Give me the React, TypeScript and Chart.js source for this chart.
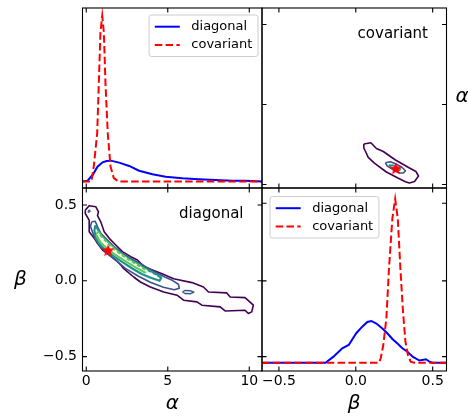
import React, { useEffect, useRef } from 'react';
import { Chart, registerables } from 'chart.js';

Chart.register(...registerables);

// ---------------- data ----------------
const alphaTicks = [0, 5, 10];
const betaTicks = [-0.5, 0.0, 0.5];
const betaDensityTicks = [0.037, 0.5, 0.974];

const alphaRange = [-0.23, 10.78];
const betaRange = [-0.61, 0.59];
const betaRangeVertical = [-0.595, 0.612];
const alphaRangeVertical = [-0.22, 11.03];
const alphaDensityRange = [-0.0393, 1.048];
const betaDensityRange = [-0.0507, 1.067];

const seriesLabels = ['diagonal', 'covariant'];

// 1D marginal of alpha  [alpha, density]
const alphaDiagonal = [
  [-0.23, 0], [0.08, 0.005], [0.39, 0.039], [0.69, 0.089], [1.0, 0.116], [1.25, 0.124], [1.5, 0.126],
  [2.02, 0.114], [2.63, 0.094], [3.24, 0.065], [4.06, 0.044], [4.87, 0.029], [5.89, 0.019],
  [6.91, 0.013], [7.93, 0.009], [8.95, 0.005], [9.76, 0.005], [10.78, 0],
];
const alphaCovariant = [
  [-0.23, 0], [0.32, 0], [0.46, 0.09], [0.67, 0.29], [0.77, 0.59], [0.87, 0.9], [0.98, 1.0],
  [1.08, 0.9], [1.18, 0.59], [1.32, 0.29], [1.49, 0.09], [1.69, 0.02], [1.98, 0], [10.78, 0],
];

// 1D marginal of beta  [beta, density]
const betaDiagonal = [
  [-0.61, 0], [-0.197, 0], [-0.145, 0.037], [-0.088, 0.088], [-0.046, 0.108], [0.003, 0.18],
  [0.042, 0.22], [0.075, 0.249], [0.101, 0.255], [0.134, 0.239], [0.173, 0.209], [0.205, 0.18],
  [0.238, 0.145], [0.271, 0.117], [0.303, 0.088], [0.336, 0.067], [0.372, 0.035], [0.414, 0.013],
  [0.457, 0.021], [0.479, 0.006], [0.499, 0], [0.59, 0],
];
const betaCovariant = [
  [-0.61, 0], [0.151, 0], [0.162, 0.027], [0.179, 0.108], [0.199, 0.271], [0.216, 0.577],
  [0.238, 0.882], [0.256, 1.0], [0.273, 0.882], [0.29, 0.577], [0.307, 0.312], [0.323, 0.128],
  [0.339, 0.047], [0.357, 0.006], [0.38, 0], [0.59, 0],
];

// 2D "diagonal" contours  [alpha, beta]
const diagOuter = [
  [-0.06, 0.466], [0.18, 0.495], [0.59, 0.488], [0.75, 0.455], [0.69, 0.429], [0.89, 0.389],
  [1.10, 0.324], [1.41, 0.28], [1.81, 0.236], [2.22, 0.192], [2.73, 0.159], [3.14, 0.137],
  [3.55, 0.093], [4.65, 0.047], [5.36, 0.014], [6.48, -0.012], [7.19, -0.041], [7.5, -0.074],
  [8.62, -0.08], [8.83, -0.107], [9.74, -0.111], [10.25, -0.161], [10.15, -0.205], [9.94, -0.216],
  [9.74, -0.194], [8.52, -0.199], [8.21, -0.172], [7.09, -0.161], [6.79, -0.139], [5.97, -0.128],
  [5.57, -0.095], [4.75, -0.074], [3.93, -0.041], [3.32, -0.008], [2.91, 0.025], [2.3, 0.08],
  [2.12, 0.104], [1.81, 0.137], [1.41, 0.17], [1.0, 0.203], [0.69, 0.247], [0.49, 0.28],
  [0.18, 0.324], [0.18, 0.4], [-0.06, 0.444],
];
const diagLevel2 = [
  [0.34, 0.389], [0.55, 0.393], [0.69, 0.357], [0.89, 0.313], [1.3, 0.268], [1.71, 0.225],
  [2.22, 0.181], [2.83, 0.141], [3.5, 0.102], [4.24, 0.056], [4.85, 0.023], [5.28, 0.003],
  [5.65, -0.023], [5.71, -0.049], [5.4, -0.059], [4.73, -0.043], [3.93, -0.01], [3.2, 0.03],
  [2.4, 0.082], [1.79, 0.138], [1.3, 0.181], [0.87, 0.227], [0.57, 0.273], [0.39, 0.319],
  [0.26, 0.359],
];
const diagIsland = [
  [5.9, -0.074], [6.05, -0.064], [6.4, -0.066], [6.6, -0.075], [6.4, -0.085], [6.05, -0.084],
];
const diagDot = [[0.12, 0.462], [0.2, 0.466], [0.24, 0.458], [0.16, 0.452]];
const diagLevel3 = [
  [0.55, 0.365], [0.7, 0.34], [1.0, 0.29], [1.4, 0.245], [2.0, 0.19], [2.6, 0.145], [3.2, 0.105],
  [3.8, 0.07], [4.3, 0.042], [4.6, 0.02], [4.5, 0.0], [4.0, 0.018], [3.4, 0.045], [2.8, 0.083],
  [2.2, 0.125], [1.6, 0.168], [1.1, 0.21], [0.8, 0.245], [0.6, 0.28], [0.5, 0.33],
];
const diagLevel4 = [
  [0.7, 0.325], [1.0, 0.283], [1.5, 0.232], [2.0, 0.185], [2.6, 0.14], [3.2, 0.1], [3.7, 0.07],
  [3.6, 0.055], [3.0, 0.09], [2.4, 0.13], [1.8, 0.17], [1.3, 0.21], [0.9, 0.25], [0.65, 0.295],
];
const diagRidge = [
  [0.7, 0.31], [1.0, 0.275], [1.4, 0.23], [2.0, 0.178], [2.6, 0.133], [3.2, 0.095], [3.8, 0.058],
  [4.3, 0.03],
];
const diagStar = [[1.34, 0.202]];

// 2D "covariant" contours  [beta, alpha]
const covOuter = [
  [0.052, 2.53], [0.098, 2.61], [0.134, 2.25], [0.179, 2.06], [0.258, 1.53], [0.349, 1.03],
  [0.391, 0.81], [0.408, 0.53], [0.382, 0.19], [0.349, 0.09], [0.323, 0.175], [0.277, 0.39],
  [0.199, 0.78], [0.121, 1.33], [0.081, 1.69], [0.065, 2.03], [0.052, 2.28],
];
const covLevel2 = [
  [0.192, 1.36], [0.225, 1.42], [0.262, 1.28], [0.3, 1.08], [0.323, 0.86], [0.31, 0.72],
  [0.285, 0.72], [0.25, 0.88], [0.205, 1.15],
];
const covLevel3 = [
  [0.215, 1.22], [0.245, 1.2], [0.29, 0.97], [0.285, 0.88], [0.255, 0.93], [0.222, 1.12],
];
const covStar = [[0.26, 1.01]];

const viridis = ['#440154', '#3b528b', '#21918c', '#5ec962', '#fde725'];

// ---------------- layout / style ----------------
const W = 468;
const H = 416;
const LEFT = 82.5;
const MIDX = 262;
const RIGHT = 446.5;
const TOP = 8;
const MIDY = 188;
const BOTTOM = 371;
const Y_AXIS_W = 60;
const X_AXIS_H = 26;
const FONT = "'DejaVu Sans', 'Liberation Sans', sans-serif";
const TICK_LEN = 4.5;
const DASH = [7.5, 3.3];

const fmtAlpha = (v: number) => String(Math.round(v));
const fmtBeta = (v: number) => v.toFixed(1).replace('-', '\u2212');

function closed(pts: number[][]) {
  return [...pts, pts[0]];
}

function curve(label: string, pts: number[][], color: string, dash?: number[]) {
  return {
    label, data: pts, showLine: true, borderColor: color, backgroundColor: color,
    borderWidth: 2, borderDash: dash || [], pointRadius: 0, fill: false, tension: 0,
  };
}

function contour(pts: number[][], color: string, width = 1.6, dash?: number[], close = true) {
  return {
    data: close ? closed(pts) : pts, showLine: true, borderColor: color, borderWidth: width,
    borderDash: dash || [], pointRadius: 0, fill: false, tension: 0, borderJoinStyle: 'round',
  };
}

function marker(pts: number[][], img: HTMLCanvasElement) {
  return { data: pts, showLine: false, pointStyle: img, pointRadius: 7, borderWidth: 0 };
}

// later datasets are drawn on top
function stacked(ds: any[]) {
  return ds.map((d, i) => ({ ...d, order: ds.length - i }));
}

function makeStar(size: number, color: string) {
  const c = document.createElement('canvas');
  c.width = size;
  c.height = size;
  const g = c.getContext('2d')!;
  const cx = size / 2;
  const cy = size / 2 + 0.6;
  const R = size / 2 - 0.3;
  const r = R * 0.42;
  g.beginPath();
  for (let i = 0; i < 10; i++) {
    const ang = -Math.PI / 2 + (i * Math.PI) / 5;
    const rad = i % 2 === 0 ? R : r;
    g.lineTo(cx + rad * Math.cos(ang), cy + rad * Math.sin(ang));
  }
  g.closePath();
  g.fillStyle = color;
  g.fill();
  return c;
}

interface PanelCfg {
  rect: number[];
  xRange: number[];
  yRange: number[];
  xTicks: number[];
  yTicks: number[];
  xLabels: boolean;
  yLabels: boolean;
  xFmt: (v: number) => string;
  yFmt: (v: number) => string;
  datasets: any[];
  legend?: { side: 'left' | 'right'; dx: number; dy: number };
  note?: string;
  xTitle?: string;
  yTitleLeft?: string;
  yTitleRight?: string;
}

function makeDecor(cfg: PanelCfg) {
  return {
    id: 'decor',
    afterDatasetsDraw(chart: any) {
      const ctx: CanvasRenderingContext2D = chart.ctx;
      const a = chart.chartArea;
      const xs = chart.scales.x;
      const ys = chart.scales.y;
      ctx.save();

      // legend
      if (cfg.legend) {
        const items = chart.data.datasets.filter((d: any) => d.label);
        ctx.font = `13px ${FONT}`;
        const textW = Math.max(...items.map((d: any) => ctx.measureText(d.label).width));
        const pad = 5.7;
        const handle = 25;
        const gap = 11.5;
        const boxW = pad + handle + gap + textW + pad;
        const boxH = 41.5;
        const bx = cfg.legend.side === 'right' ? a.right - cfg.legend.dx - boxW : a.left + cfg.legend.dx;
        const by = a.top + cfg.legend.dy;
        ctx.beginPath();
        (ctx as any).roundRect(bx, by, boxW, boxH, 2.5);
        ctx.fillStyle = 'rgba(255,255,255,0.8)';
        ctx.fill();
        ctx.strokeStyle = '#cccccc';
        ctx.lineWidth = 1;
        ctx.stroke();
        items.forEach((d: any, i: number) => {
          const yy = by + 11.7 + i * 18.3;
          ctx.beginPath();
          ctx.setLineDash(d.borderDash || []);
          ctx.strokeStyle = d.borderColor;
          ctx.lineWidth = d.borderWidth;
          ctx.moveTo(bx + pad, yy);
          ctx.lineTo(bx + pad + handle, yy);
          ctx.stroke();
          ctx.setLineDash([]);
          ctx.fillStyle = '#000';
          ctx.textAlign = 'left';
          ctx.textBaseline = 'middle';
          ctx.fillText(d.label, bx + pad + handle + gap, yy);
        });
      }

      // note text
      if (cfg.note) {
        ctx.font = `15px ${FONT}`;
        ctx.fillStyle = '#000';
        ctx.textAlign = 'right';
        ctx.textBaseline = 'middle';
        ctx.fillText(cfg.note, a.right - 18.5, a.top + 26.5);
      }

      // frame
      ctx.strokeStyle = '#000';
      ctx.lineWidth = 1.1;
      ctx.strokeRect(a.left, a.top, a.right - a.left, a.bottom - a.top);

      // inward ticks
      ctx.beginPath();
      for (const v of cfg.xTicks) {
        const px = xs.getPixelForValue(v);
        ctx.moveTo(px, a.bottom);
        ctx.lineTo(px, a.bottom - TICK_LEN);
        ctx.moveTo(px, a.top);
        ctx.lineTo(px, a.top + TICK_LEN);
      }
      for (const v of cfg.yTicks) {
        const py = ys.getPixelForValue(v);
        ctx.moveTo(a.left, py);
        ctx.lineTo(a.left + TICK_LEN, py);
        ctx.moveTo(a.right, py);
        ctx.lineTo(a.right - TICK_LEN, py);
      }
      ctx.stroke();

      // axis titles
      ctx.font = `italic 20px ${FONT}`;
      ctx.fillStyle = '#000';
      ctx.textAlign = 'center';
      ctx.textBaseline = 'middle';
      const cy = (a.top + a.bottom) / 2;
      if (cfg.xTitle) ctx.fillText(cfg.xTitle, (a.left + a.right) / 2, a.bottom + 33);
      if (cfg.yTitleLeft) ctx.fillText(cfg.yTitleLeft, a.left - 62, cy);
      if (cfg.yTitleRight) ctx.fillText(cfg.yTitleRight, a.right + 15.5, cy - 1);
      ctx.restore();
    },
  };
}

function buildConfig(p: PanelCfg): any {
  const [l, t, r, b] = p.rect;
  const axis = (which: 'x' | 'y', range: number[], ticks: number[], show: boolean, fmt: (v: number) => string) => ({
    type: 'linear',
    min: range[0],
    max: range[1],
    display: show,
    grid: { display: false, drawTicks: false },
    border: { display: false },
    ticks: {
      color: '#000',
      font: { family: FONT, size: 14 },
      padding: which === 'x' ? 1.5 : 5.5,
      autoSkip: false,
      maxRotation: 0,
      minRotation: 0,
      callback: (v: any) => fmt(Number(v)),
    },
    afterBuildTicks: (s: any) => {
      s.ticks = ticks.map((v) => ({ value: v }));
    },
    afterFit: (s: any) => {
      if (!show) {
        if (which === 'x') s.height = 0;
        else s.width = 0;
        return;
      }
      if (which === 'x') s.height = X_AXIS_H;
      else s.width = Y_AXIS_W;
    },
  });
  const padL = p.yLabels ? l - Y_AXIS_W : l;
  const padB = p.xLabels ? H - b - X_AXIS_H : H - b;
  return {
    type: 'scatter',
    data: { datasets: stacked(p.datasets) },
    options: {
      animation: false,
      responsive: false,
      devicePixelRatio: 1,
      events: [],
      layout: { padding: { left: padL, top: t, right: W - r, bottom: padB } },
      plugins: { legend: { display: false }, tooltip: { enabled: false } },
      scales: {
        x: axis('x', p.xRange, p.xTicks, p.xLabels, p.xFmt),
        y: axis('y', p.yRange, p.yTicks, p.yLabels, p.yFmt),
      },
    },
    plugins: [makeDecor(p)],
  };
}

export default function App() {
  const refs = [
    useRef<HTMLCanvasElement>(null),
    useRef<HTMLCanvasElement>(null),
    useRef<HTMLCanvasElement>(null),
    useRef<HTMLCanvasElement>(null),
  ];

  useEffect(() => {
    document.body.style.margin = '0';
    const star = makeStar(14, '#ff0000');
    const panels: PanelCfg[] = [
      {
        rect: [LEFT, TOP, MIDX, MIDY],
        xRange: alphaRange,
        yRange: alphaDensityRange,
        xTicks: alphaTicks,
        yTicks: [],
        xLabels: false,
        yLabels: false,
        xFmt: fmtAlpha,
        yFmt: fmtAlpha,
        datasets: [
          curve(seriesLabels[0], alphaDiagonal, '#0000ff'),
          curve(seriesLabels[1], alphaCovariant, '#ff0000', DASH),
        ],
        legend: { side: 'right', dx: 4, dy: 7 },
      },
      {
        rect: [MIDX, TOP, RIGHT, MIDY],
        xRange: betaRange,
        yRange: alphaRangeVertical,
        xTicks: betaTicks,
        yTicks: alphaTicks,
        xLabels: false,
        yLabels: false,
        xFmt: fmtBeta,
        yFmt: fmtAlpha,
        datasets: [
          contour(covOuter, viridis[0]),
          contour(covLevel2, viridis[1]),
          contour(covLevel3, viridis[2], 1.4),
          marker(covStar, star),
        ],
        note: seriesLabels[1],
        yTitleRight: '\u03b1',
      },
      {
        rect: [LEFT, MIDY, MIDX, BOTTOM],
        xRange: alphaRange,
        yRange: betaRangeVertical,
        xTicks: alphaTicks,
        yTicks: betaTicks,
        xLabels: true,
        yLabels: true,
        xFmt: fmtAlpha,
        yFmt: fmtBeta,
        datasets: [
          contour(diagOuter, viridis[0]),
          contour(diagLevel2, viridis[1]),
          contour(diagIsland, viridis[1], 1.4),
          contour(diagDot, viridis[1], 1.2),
          contour(diagLevel3, viridis[2], 2.2),
          contour(diagLevel4, viridis[3], 2.2),
          contour(diagRidge, '#f4fbe0', 2, [2.5, 3.5], false),
          marker(diagStar, star),
        ],
        note: seriesLabels[0],
        xTitle: '\u03b1',
        yTitleLeft: '\u03b2',
      },
      {
        rect: [MIDX, MIDY, RIGHT, BOTTOM],
        xRange: betaRange,
        yRange: betaDensityRange,
        xTicks: betaTicks,
        yTicks: betaDensityTicks,
        xLabels: true,
        yLabels: false,
        xFmt: fmtBeta,
        yFmt: fmtBeta,
        datasets: [
          curve(seriesLabels[0], betaDiagonal, '#0000ff'),
          curve(seriesLabels[1], betaCovariant, '#ff0000', DASH),
        ],
        legend: { side: 'left', dx: 8, dy: 8.5 },
        xTitle: '\u03b2',
      },
    ];
    const charts = panels.map((p, i) => new Chart(refs[i].current!, buildConfig(p)));
    return () => charts.forEach((c) => c.destroy());
  }, []);

  return (
    <div style={{ position: 'absolute', left: 0, top: 0, width: W, height: H, background: '#fff' }}>
      {refs.map((r, i) => (
        <canvas key={i} ref={r} width={W} height={H} style={{ position: 'absolute', left: 0, top: 0 }} />
      ))}
    </div>
  );
}
